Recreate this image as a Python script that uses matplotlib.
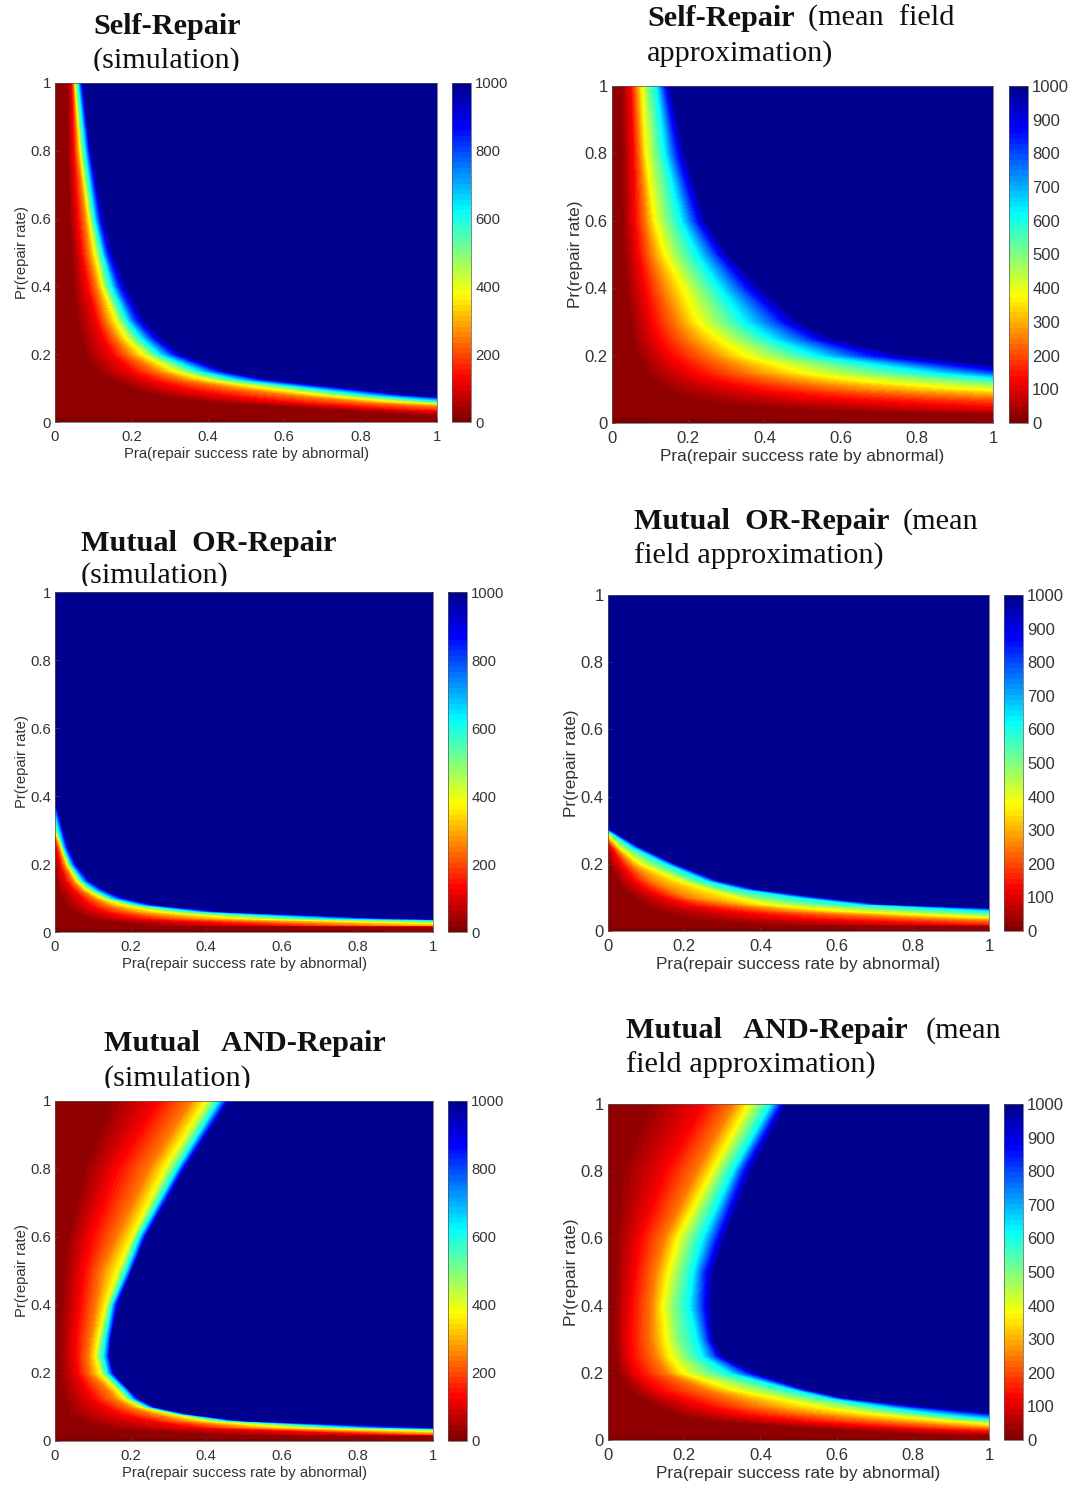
#!/usr/bin/env python

import matplotlib
matplotlib.use("Agg")
import matplotlib.pyplot as plt
import numpy as np
from matplotlib.cm import ScalarMappable
from matplotlib.colors import LinearSegmentedColormap, Normalize
from matplotlib.transforms import Bbox

W, H = 1071, 1485
plt.rcParams["font.family"] = "Liberation Sans"

pr_rows = [0, .02, .04, .06, .08, .1, .125, .15, .2, .25, .3, .4, .5, .6, .8, 1]
count_levels = [25, 125, 250, 375, 500, 625, 800, 1000]

# one row per Pr value, one column per count level; Pra > 1 or < 0 is off the plot
self_sim = [
    [3, 4, 5, 6, 7, 8, 9, 10],
    [.95, 1.3, 1.6, 1.8, 1.9, 2, 2.1, 2.2],
    [.72, .85, 1.1, 1.3, 1.4, 1.5, 1.6, 1.7],
    [.40, .60, .80, .90, .97, 1.03, 1.15, 1.3],
    [.26, .43, .62, .70, .76, .82, .89, .95],
    [.20, .33, .47, .56, .62, .67, .73, .80],
    [.15, .25, .34, .40, .44, .48, .53, .58],
    [.11, .20, .27, .315, .35, .38, .42, .46],
    [.08, .15, .195, .23, .255, .275, .305, .34],
    [.07, .125, .16, .185, .205, .225, .25, .28],
    [.06, .11, .135, .16, .175, .19, .21, .24],
    [.05, .085, .11, .125, .135, .15, .165, .19],
    [.045, .07, .09, .105, .115, .125, .135, .155],
    [.04, .06, .08, .09, .097, .105, .115, .13],
    [.035, .05, .06, .067, .072, .08, .088, .097],
    [.035, .045, .05, .053, .057, .062, .068, .075],
]
self_mf = [
    [3, 4, 5, 6, 7, 8, 9, 10],
    [1.15, 3, 4, 5, 6, 7, 8, 9],
    [.5, 1.15, 2, 3, 4, 5, 6, 7],
    [.25, .75, 1.4, 2, 2.5, 3, 3.5, 4],
    [.19, .5, .93, 1.4, 1.8, 2.2, 2.4, 2.6],
    [.14, .37, .65, .95, 1.25, 1.5, 1.7, 2],
    [.11, .27, .47, .66, .92, 1.1, 1.25, 1.4],
    [.09, .21, .36, .50, .66, .84, 1.0, 1.2],
    [.07, .15, .26, .35, .45, .54, .65, .79],
    [.055, .12, .20, .28, .35, .42, .51, .59],
    [.05, .105, .17, .225, .29, .35, .43, .50],
    [.04, .085, .135, .187, .235, .285, .34, .40],
    [.035, .07, .105, .14, .18, .225, .27, .31],
    [.03, .06, .09, .113, .145, .183, .215, .25],
    [.028, .057, .075, .09, .115, .14, .165, .195],
    [.026, .05, .065, .08, .095, .118, .135, .155],
]
or_sim = [
    [3, 4, 5, 6, 7, 8, 9, 10],
    [.22, .55, .85, 1.2, 1.5, 1.8, 2, 2.2],
    [.09, .21, .35, .50, .60, .72, .85, .95],
    [.05, .13, .20, .28, .33, .38, .42, .46],
    [.03, .09, .14, .18, .205, .225, .25, .28],
    [.02, .07, .105, .125, .14, .15, .17, .195],
    [.01, .05, .07, .085, .095, .105, .12, .135],
    [.005, .03, .05, .06, .067, .074, .085, .1],
    [0, .015, .025, .033, .038, .042, .05, .06],
    [-.01, .005, .012, .017, .02, .023, .03, .04],
    [-.05, -.01, -.002, 0, .005, .01, .018, .025],
    [-.5, -.4, -.3, -.1, -.02, -.01, -.006, -.002],
    [-.6, -.5, -.4, -.3, -.2, -.1, -.05, -.01],
    [-.6, -.5, -.4, -.3, -.2, -.1, -.05, -.01],
    [-.6, -.5, -.4, -.3, -.2, -.1, -.05, -.01],
    [-.6, -.5, -.4, -.3, -.2, -.1, -.05, -.01],
]
or_mf = [
    [3, 4, 5, 6, 7, 8, 9, 10],
    [.37, .9, 1.3, 1.8, 2.1, 2.4, 2.6, 2.8],
    [.19, .47, .8, 1.0, 1.2, 1.4, 1.6, 1.8],
    [.13, .32, .47, .62, .8, 1.0, 1.15, 1.3],
    [.09, .2, .32, .41, .52, .66, .70, .74],
    [.07, .15, .21, .34, .39, .50, .54, .58],
    [.04, .10, .16, .26, .29, .35, .375, .40],
    [.025, .07, .115, .19, .22, .26, .28, .30],
    [.005, .035, .06, .085, .12, .155, .17, .185],
    [-.01, .01, .02, .03, .045, .065, .078, .09],
    [-.06, -.04, -.02, -.01, -.005, 0, .005, .015],
    [-.9, -.8, -.7, -.6, -.5, -.4, -.3, -.2],
    [-.9, -.8, -.7, -.6, -.5, -.4, -.3, -.2],
    [-.9, -.8, -.7, -.6, -.5, -.4, -.3, -.2],
    [-.9, -.8, -.7, -.6, -.5, -.4, -.3, -.2],
    [-.9, -.8, -.7, -.6, -.5, -.4, -.3, -.2],
]
and_sim = [
    [3, 4, 5, 6, 7, 8, 9, 10],
    [.4, .85, 1.05, 1.3, 1.6, 1.8, 2, 2.2],
    [.13, .37, .5, .62, .72, .80, .9, 1.1],
    [.07, .25, .34, .40, .43, .46, .48, .50],
    [.035, .17, .26, .31, .32, .33, .345, .36],
    [.03, .135, .20, .23, .24, .25, .26, .27],
    [.025, .10, .16, .185, .195, .205, .215, .225],
    [.02, .085, .14, .165, .175, .185, .195, .20],
    [.015, .06, .095, .12, .13, .14, .15, .16],
    [.015, .055, .09, .108, .118, .13, .14, .148],
    [.015, .056, .095, .115, .125, .135, .145, .15],
    [.02, .065, .11, .135, .145, .152, .16, .172],
    [.025, .075, .125, .165, .18, .19, .20, .205],
    [.035, .095, .165, .205, .215, .225, .235, .245],
    [.08, .16, .25, .29, .31, .325, .335, .35],
    [.15, .27, .36, .40, .42, .435, .45, .465],
]
and_mf = [
    [3, 4, 5, 6, 7, 8, 9, 10],
    [.8, 1.1, 1.4, 1.7, 1.9, 2.1, 2.2, 2.3],
    [.47, .72, .95, 1.1, 1.25, 1.4, 1.5, 1.6],
    [.25, .47, .70, .87, .95, 1.03, 1.15, 1.3],
    [.16, .33, .52, .68, .77, .85, .95, 1.05],
    [.13, .26, .40, .55, .65, .72, .78, .85],
    [.09, .19, .33, .44, .52, .58, .61, .634],
    [.055, .13, .26, .33, .42, .49, .51, .53],
    [.03, .079, .155, .197, .26, .32, .36, .40],
    [.02, .06, .125, .165, .205, .25, .28, .305],
    [.017, .057, .115, .153, .185, .235, .26, .28],
    [.018, .061, .115, .144, .175, .215, .245, .275],
    [.02, .07, .125, .16, .19, .225, .25, .28],
    [.022, .083, .15, .184, .215, .25, .28, .31],
    [.04, .149, .235, .275, .30, .33, .35, .38],
    [.11, .25, .33, .37, .40, .43, .45, .472],
]

axis_ticks = [0, 0.2, 0.4, 0.6, 0.8, 1]
axis_tick_labels = ["0", "0.2", "0.4", "0.6", "0.8", "1"]
cbar_ticks_sim = [0, 200, 400, 600, 800, 1000]
cbar_ticks_mf = [0, 100, 200, 300, 400, 500, 600, 700, 800, 900, 1000]

xlabel_text = "Pra(repair success rate by abnormal)"
ylabel_text = "Pr(repair rate)"

# (data, left, right, top, bottom of axes in px, left of colorbar, mean field)
panels = [
    (self_sim, 55, 437, 83, 422, 452, False),
    (self_mf, 612, 993, 86, 423, 1009, True),
    (or_sim, 55, 433, 592, 932, 448, False),
    (or_mf, 608, 989, 595, 931, 1004, True),
    (and_sim, 55, 433, 1101, 1441, 448, False),
    (and_mf, 608, 989, 1104, 1440, 1004, True),
]

# (text, x, baseline y, bold, clip bottom in px)
titles = [
    ("Self-Repair", 93, 34, True, None),
    ("(simulation)", 93, 68, False, 71),
    ("Self-Repair", 647, 26, True, None),
    ("(mean  field", 808, 26, False, None),
    ("approximation)", 647, 61, False, None),
    ("Mutual  OR-Repair", 81, 551, True, None),
    ("(simulation)", 81, 583, False, 586),
    ("Mutual  OR-Repair", 634, 529, True, None),
    ("(mean", 903, 529, False, None),
    ("field approximation)", 634, 564, False, None),
    ("Mutual   AND-Repair", 104, 1051, True, None),
    ("(simulation)", 104, 1086, False, 1088),
    ("Mutual   AND-Repair", 626, 1038, True, None),
    ("(mean", 926, 1038, False, None),
    ("field approximation)", 626, 1073, False, None),
]


def px_box(left, right, top, bottom):
    return [left / W, 1 - bottom / H, (right - left) / W, (bottom - top) / H]


def draw_field(ax, table):
    # mesh whose columns follow the level positions, so contourf gets smooth bands
    table = np.array(table)
    n = len(pr_rows)
    xs = np.column_stack([np.full(n, -2.0), table, np.full(n, 12.0)])
    ys = np.repeat(np.array(pr_rows)[:, None], xs.shape[1], axis=1)
    zs = np.tile([0] + count_levels + [1000], (n, 1))
    ax.contourf(xs, ys, zs, levels=levels, cmap=cmap, norm=norm)


fig = plt.figure(figsize=(W / 100, H / 100), dpi=100, facecolor="white")
cmap = LinearSegmentedColormap.from_list(
    "jet64_r",
    [(0, (.5, 0, 0)), (.125, (1, 0, 0)), (.375, (1, 1, 0)),
     (.625, (0, 1, 1)), (.875, (0, 0, 1)), (1, (0, 0, .5625))],
    N=64,
)
norm = Normalize(0, 1000)
levels = np.linspace(0, 1000, 65)
levels[-1] = 1001

for data, left, right, top, bottom, cbar_left, is_mf in panels:
    tick_size = 12 if is_mf else 10.7
    label_size = 12.4 if is_mf else 10.7
    ax = fig.add_axes(px_box(left, right, top, bottom))
    draw_field(ax, data)
    ax.set_xlim(0, 1)
    ax.set_ylim(0, 1)
    ax.set_xticks(axis_ticks, axis_tick_labels)
    ax.set_yticks(axis_ticks, axis_tick_labels)
    ax.tick_params(direction="in", length=3, width=0.5, labelsize=tick_size,
                   labelcolor="#333333", color="#444444", pad=3)
    ax.tick_params(axis="x", pad=6)
    ax.set_xlabel(xlabel_text, fontsize=label_size, color="#333333", labelpad=2)
    ax.set_ylabel(ylabel_text, fontsize=label_size, color="#333333", labelpad=1)
    for spine in ax.spines.values():
        spine.set_linewidth(0.5)
        spine.set_color("#555555")

    cax = fig.add_axes(px_box(cbar_left, cbar_left + 19, top, bottom))
    cbar = fig.colorbar(ScalarMappable(norm=norm, cmap=cmap), cax=cax,
                        ticks=cbar_ticks_mf if is_mf else cbar_ticks_sim)
    cbar.ax.tick_params(length=0, labelsize=tick_size, labelcolor="#333333", pad=3)
    cbar.outline.set_linewidth(0.5)
    cbar.outline.set_edgecolor("#555555")

for text, x, y, bold, clip_y in titles:
    t = fig.text(x / W, 1 - y / H, text, family="Liberation Serif", fontsize=21.8,
                 fontweight="bold" if bold else "normal", color="#111111",
                 ha="left", va="baseline")
    if clip_y is not None:
        t.set_clip_box(Bbox([[0, H - clip_y], [W, H]]))
        t.set_clip_on(True)

fig.savefig("out.png", dpi=100)
